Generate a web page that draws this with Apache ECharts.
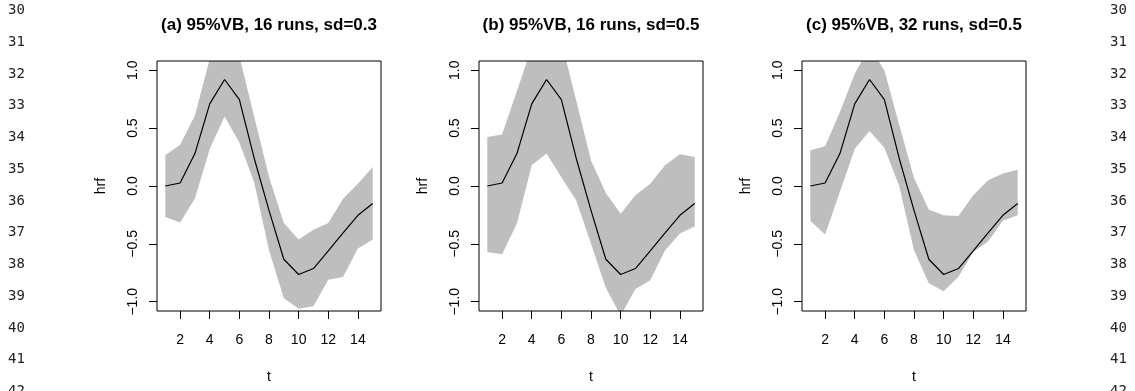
<!DOCTYPE html>
<html>
<head>
<meta charset="utf-8">
<script src="https://cdn.jsdelivr.net/npm/echarts@6/dist/echarts.min.js"></script>
<style>
html,body{margin:0;padding:0;background:#fff;}
#chart{width:1135px;height:391px;}
</style>
</head>
<body>
<div id="chart"></div>
<script>
// ---- data ----
const tValues = [1, 2, 3, 4, 5, 6, 7, 8, 9, 10, 11, 12, 13, 14, 15];
const hrfMean = [0.0, 0.026, 0.28, 0.71, 0.92, 0.746, 0.24, -0.21, -0.633, -0.765, -0.713, -0.56, -0.405, -0.253, -0.152];

const upperA = [0.265, 0.357, 0.61, 1.1, 1.25, 1.12, 0.6, 0.08, -0.32, -0.463, -0.377, -0.32, -0.11, 0.02, 0.164];
const lowerA = [-0.268, -0.316, -0.109, 0.32, 0.60, 0.375, 0.03, -0.555, -0.97, -1.06, -1.04, -0.81, -0.786, -0.54, -0.463];

const upperB = [0.423, 0.444, 0.82, 1.2, 1.35, 1.25, 0.74, 0.22, -0.06, -0.24, -0.08, 0.02, 0.18, 0.274, 0.25];
const lowerB = [-0.57, -0.59, -0.325, 0.18, 0.28, 0.075, -0.123, -0.5, -0.88, -1.12, -0.89, -0.814, -0.555, -0.41, -0.35];

const upperC = [0.308, 0.343, 0.64, 0.97, 1.2, 1.0, 0.53, 0.07, -0.204, -0.253, -0.26, -0.08, 0.05, 0.107, 0.14];
const lowerC = [-0.30, -0.42, -0.05, 0.32, 0.475, 0.33, 0.0, -0.555, -0.84, -0.91, -0.785, -0.57, -0.48, -0.30, -0.253];

const panelTitles = ['(a) 95%VB, 16 runs, sd=0.3', '(b) 95%VB, 16 runs, sd=0.5', '(c) 95%VB, 32 runs, sd=0.5'];
const xTicks = [2, 4, 6, 8, 10, 12, 14];
const yTicks = [-1, -0.5, 0, 0.5, 1];
const lineNumbers = ['30', '31', '32', '33', '34', '35', '36', '37', '38', '39', '40', '41', '42'];

// ---- layout ----
const bands = [[upperA, lowerA], [upperB, lowerB], [upperC, lowerC]];
const gridLefts = [157, 479, 802];
const gridTop = 61, gridW = 224, gridH = 250;
const FONT = 'Liberation Sans, Arial, Helvetica, sans-serif';

const chart = echarts.init(document.getElementById('chart'), null, {renderer: 'canvas'});

const grids = [], xAxes = [], yAxes = [], series = [], titles = [];
const fmtY = v => (v < 0 ? '\u2212' : '') + Math.abs(v).toFixed(1);

bands.forEach(([up, lo], i) => {
  grids.push({
    left: gridLefts[i], top: gridTop, width: gridW, height: gridH,
    show: true, borderColor: '#000', borderWidth: 1,
    backgroundColor: 'transparent', z: 10
  });
  xAxes.push({
    gridIndex: i, type: 'value', min: 0.44, max: 15.56,
    axisLine: {show: false, onZero: false}, splitLine: {show: false},
    axisTick: {show: true, customValues: xTicks, length: 8, lineStyle: {color: '#000', width: 1}},
    axisLabel: {customValues: xTicks, margin: 22, color: '#000', fontSize: 14, fontFamily: FONT},
    name: 't', nameLocation: 'middle', nameGap: 59,
    nameTextStyle: {color: '#000', fontSize: 14, fontFamily: FONT}
  });
  yAxes.push({
    gridIndex: i, type: 'value', min: -1.08, max: 1.08,
    axisLine: {show: false, onZero: false}, splitLine: {show: false},
    axisTick: {show: true, customValues: yTicks, length: 8, lineStyle: {color: '#000', width: 1}},
    axisLabel: {customValues: yTicks, rotate: 90, margin: 17, color: '#000', fontSize: 14, fontFamily: FONT, formatter: fmtY},
    name: 'hrf', nameLocation: 'middle', nameGap: 49,
    nameTextStyle: {color: '#000', fontSize: 14, fontFamily: FONT}
  });
  // confidence band polygon (upper edge forward, lower edge back)
  series.push({
    type: 'custom', xAxisIndex: i, yAxisIndex: i, silent: true, z: 1,
    data: tValues.map((t, k) => [t, lo[k], up[k]]),
    encode: {x: 0, y: [1, 2]},
    renderItem: (params, api) => {
      if (params.dataIndex !== 0) return null;
      const pts = [];
      tValues.forEach((t, k) => pts.push(api.coord([t, up[k]])));
      for (let k = tValues.length - 1; k >= 0; k--) pts.push(api.coord([tValues[k], lo[k]]));
      const cs = params.coordSys;
      return {
        type: 'polygon',
        shape: {points: pts},
        style: {fill: '#BEBEBE', stroke: null},
        clipPath: {type: 'rect', shape: {x: cs.x, y: cs.y, width: cs.width, height: cs.height}}
      };
    }
  });
  series.push({
    type: 'line', xAxisIndex: i, yAxisIndex: i,
    data: tValues.map((t, k) => [t, hrfMean[k]]),
    symbol: 'none', lineStyle: {color: '#000', width: 1.2}, silent: true, z: 3
  });
  titles.push({
    text: panelTitles[i], left: gridLefts[i] + gridW / 2, top: 17, textAlign: 'center', padding: 0,
    textStyle: {color: '#000', fontSize: 17, fontWeight: 'bold', fontFamily: FONT}
  });
});

const graphics = [];
lineNumbers.forEach((s, k) => {
  const y = 10.5 + 31.75 * k;
  graphics.push({type: 'text', left: 8, top: y - 7, style: {text: s, fill: '#222', font: '14px "DejaVu Sans Mono", monospace'}, silent: true});
  graphics.push({type: 'text', left: 1110, top: y - 7, style: {text: s, fill: '#222', font: '14px "DejaVu Sans Mono", monospace'}, silent: true});
});

chart.setOption({
  backgroundColor: '#fff',
  animation: false,
  title: titles,
  grid: grids,
  xAxis: xAxes,
  yAxis: yAxes,
  series: series,
  graphic: graphics
});
</script>
</body>
</html>
